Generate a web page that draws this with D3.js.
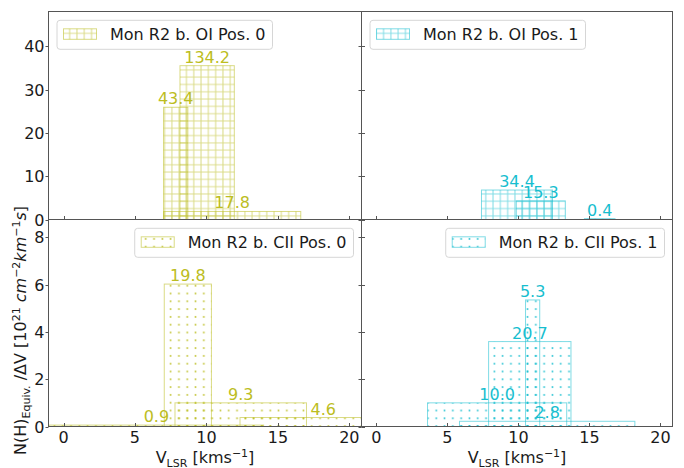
<!DOCTYPE html>
<html>
<head>
<meta charset="utf-8">
<script src="https://cdn.jsdelivr.net/npm/d3@7"></script>
<style>
  body { margin: 0; background: #fff; }
  text { font-family: "DejaVu Sans", sans-serif; }
</style>
</head>
<body>
<script>
// velocity ranges (km/s) and N(H)/dV per component, one set per panel
var xTicks = [0, 5, 10, 15, 20];
var yTicksOI = [0, 10, 20, 30, 40];
var yTicksCII = [0, 2, 4, 6, 8];

var oi0Lo = [7.0, 8.15, 7.0];
var oi0Hi = [8.7, 11.95, 16.6];
var oi0Val = [25.9, 35.5, 1.85];
var oi0Lbl = ["43.4", "134.2", "17.8"];

var oi1Lo = [7.4, 9.85, 14.65];
var oi1Hi = [12.4, 13.3, 16.8];
var oi1Val = [6.8, 4.3, 0.2];
var oi1Lbl = ["34.4", "15.3", "0.4"];

var cii0Lo = [7.05, 7.8, 12.35, -1.0];
var cii0Hi = [10.35, 17.0, 24.0, 14.0];
var cii0Val = [6.02, 1.0, 0.38, 0.06];
var cii0Lbl = ["19.8", "9.3", "4.6", "0.9"];

var cii1Lo = [10.5, 7.9, 3.6, 5.85];
var cii1Hi = [11.5, 13.7, 13.4, 18.2];
var cii1Val = [5.35, 3.59, 1.0, 0.22];
var cii1Lbl = ["5.3", "20.7", "10.0", "2.8"];

var olive = "#bcbd22", cyan = "#17becf";

(function(){
    var W = 684, H = 468;
    var colL = 48.5, colM = 361.5, colR = 672.5;
    var rowT = 11.5, rowM = 219.5, rowB = 426.5;

    var svg = d3.select("body").append("svg")
        .attr("width", W).attr("height", H);
    var defs = svg.append("defs");

    function gridPattern(id, color) {
        var p = defs.append("pattern").attr("id", id)
            .attr("patternUnits", "userSpaceOnUse")
            .attr("x", 0.3).attr("y", 0.5)
            .attr("width", 7.3).attr("height", 7.3);
        p.append("path")
            .attr("d", "M3.65,0V7.3M0,3.65H7.3")
            .attr("stroke", color).attr("stroke-opacity", 0.55)
            .attr("stroke-width", 1).attr("fill", "none");
    }
    function dotPattern(id, color) {
        var p = defs.append("pattern").attr("id", id)
            .attr("patternUnits", "userSpaceOnUse")
            .attr("x", 0.5).attr("y", 1)
            .attr("width", 8.3).attr("height", 7.8);
        p.append("circle").attr("cx", 4.15).attr("cy", 3.9).attr("r", 1)
            .attr("fill", color).attr("fill-opacity", 0.85);
    }
    gridPattern("grid-olive", olive);
    gridPattern("grid-cyan", cyan);
    dotPattern("dots-olive", olive);
    dotPattern("dots-cyan", cyan);

    var panels = [
        {x0: colL, x1: colM, y0: rowT, y1: rowM, lo: oi0Lo, hi: oi0Hi, val: oi0Val, lbl: oi0Lbl,
         yMax: 48, yt: yTicksOI, color: olive, fill: "grid-olive", name: "Mon R2 b. OI Pos. 0",
         left: true, bottom: false, legendLeft: true},
        {x0: colM, x1: colR, y0: rowT, y1: rowM, lo: oi1Lo, hi: oi1Hi, val: oi1Val, lbl: oi1Lbl,
         yMax: 48, yt: yTicksOI, color: cyan, fill: "grid-cyan", name: "Mon R2 b. OI Pos. 1",
         left: false, bottom: false, legendLeft: true},
        {x0: colL, x1: colM, y0: rowM, y1: rowB, lo: cii0Lo, hi: cii0Hi, val: cii0Val, lbl: cii0Lbl,
         yMax: 8.75, yt: yTicksCII, color: olive, fill: "dots-olive", name: "Mon R2 b. CII Pos. 0",
         left: true, bottom: true, legendLeft: false},
        {x0: colM, x1: colR, y0: rowM, y1: rowB, lo: cii1Lo, hi: cii1Hi, val: cii1Val, lbl: cii1Lbl,
         yMax: 8.75, yt: yTicksCII, color: cyan, fill: "dots-cyan", name: "Mon R2 b. CII Pos. 1",
         left: false, bottom: true, legendLeft: false}
    ];

    panels.forEach(function(p, i) {
        var x = d3.scaleLinear().domain([-1.05, 20.85]).range([p.x0, p.x1]);
        var y = d3.scaleLinear().domain([0, p.yMax]).range([p.y1, p.y0]);
        var g = svg.append("g");

        defs.append("clipPath").attr("id", "clip" + i)
            .append("rect").attr("x", p.x0).attr("y", p.y0)
            .attr("width", p.x1 - p.x0).attr("height", p.y1 - p.y0);

        var bars = d3.range(p.val.length).map(function(k) {
            return {lo: p.lo[k], hi: p.hi[k], v: p.val[k], lbl: p.lbl[k]};
        });

        var plot = g.append("g").attr("clip-path", "url(#clip" + i + ")");
        plot.selectAll("rect.bar").data(bars).enter().append("rect")
            .attr("class", "bar")
            .attr("x", function(d) { return x(d.lo); })
            .attr("y", function(d) { return y(d.v); })
            .attr("width", function(d) { return x(d.hi) - x(d.lo); })
            .attr("height", function(d) { return y(0) - y(d.v); })
            .attr("fill", "url(#" + p.fill + ")")
            .attr("stroke", p.color).attr("stroke-opacity", 0.55)
            .attr("stroke-width", 1);

        plot.selectAll("text.lbl").data(bars).enter().append("text")
            .attr("class", "lbl")
            .attr("x", function(d) { return x((d.lo + d.hi) / 2); })
            .attr("y", function(d) { return y(d.v) - 3; })
            .attr("text-anchor", "middle")
            .attr("font-size", 16)
            .attr("fill", p.color)
            .text(function(d) { return d.lbl; });

        // frame
        g.append("rect").attr("x", p.x0).attr("y", p.y0)
            .attr("width", p.x1 - p.x0).attr("height", p.y1 - p.y0)
            .attr("fill", "none").attr("stroke", "#555").attr("stroke-width", 1);

        // x ticks point inward, y ticks outward
        g.selectAll("line.xt").data(xTicks).enter().append("line")
            .attr("x1", function(d) { return Math.round(x(d)) + 0.5; })
            .attr("x2", function(d) { return Math.round(x(d)) + 0.5; })
            .attr("y1", p.y1).attr("y2", p.y1 - 3.5)
            .attr("stroke", "#555");
        g.selectAll("line.yt").data(p.yt).enter().append("line")
            .attr("x1", p.x0).attr("x2", p.x0 - 3)
            .attr("y1", function(d) { return Math.round(y(d)) + 0.5; })
            .attr("y2", function(d) { return Math.round(y(d)) + 0.5; })
            .attr("stroke", "#555");
        if (p.left) {
            g.selectAll("line.yr").data(p.yt).enter().append("line")
                .attr("x1", p.x1).attr("x2", p.x1 + 3.5)
                .attr("y1", function(d) { return Math.round(y(d)) + 0.5; })
                .attr("y2", function(d) { return Math.round(y(d)) + 0.5; })
                .attr("stroke", "#555");
            g.selectAll("text.yl").data(p.yt).enter().append("text")
                .attr("x", p.x0 - 4).attr("y", function(d) { return y(d) + 6; })
                .attr("text-anchor", "end").attr("font-size", 16).attr("fill", "#1a1a1a")
                .text(function(d) { return d; });
        }
        if (p.bottom) {
            g.selectAll("text.xl").data(xTicks).enter().append("text")
                .attr("x", function(d) { return x(d); }).attr("y", p.y1 + 16.5)
                .attr("text-anchor", "middle").attr("font-size", 16).attr("fill", "#1a1a1a")
                .text(function(d) { return d; });
            var xl = g.append("text").attr("x", (p.x0 + p.x1) / 2).attr("y", 463)
                .attr("text-anchor", "middle").attr("font-size", 16).attr("fill", "#1a1a1a");
            xl.append("tspan").text("V");
            xl.append("tspan").attr("font-size", 11).attr("dy", 3.5).text("LSR");
            xl.append("tspan").attr("dy", -3.5).text(" [kms");
            xl.append("tspan").attr("font-size", 11).attr("dy", -6.5).text("\u22121");
            xl.append("tspan").attr("dy", 6.5).text("]");
        }

        // legend
        var lg = g.append("g");
        var box = lg.append("rect").attr("rx", 3).attr("ry", 3)
            .attr("fill", "#fff").attr("fill-opacity", 0.8)
            .attr("stroke", "#d6d6d6").attr("stroke-width", 1);
        var handle = lg.append("rect")
            .attr("fill", "url(#" + p.fill + ")")
            .attr("stroke", p.color).attr("stroke-opacity", 0.55);
        var txt = lg.append("text").attr("font-size", 16).attr("fill", "#1a1a1a").text(p.name);
        var tw = txt.node().getComputedTextLength();
        var bw = 53 + tw + 7, bh = 29;
        var bx = p.legendLeft ? p.x0 + 8.5 : p.x1 - 8 - bw;
        var by = p.y0 + 8.8;
        box.attr("x", bx).attr("y", by).attr("width", bw).attr("height", bh);
        handle.attr("x", bx + 6.5).attr("y", by + 8.5).attr("width", 33).attr("height", 10.5);
        txt.attr("x", bx + 53).attr("y", by + 19.5);
    });

    // shared y label
    var yl = svg.append("text")
        .attr("transform", "translate(26,455) rotate(-90)")
        .attr("text-anchor", "start").attr("font-size", 16).attr("fill", "#1a1a1a");
    yl.append("tspan").text("N(H)");
    yl.append("tspan").attr("font-size", 11).attr("dy", 3.5).text("Equiv.");
    yl.append("tspan").attr("dy", -3.5).text(" /\u0394V [10");
    yl.append("tspan").attr("font-size", 11).attr("dy", -6.5).text("21");
    yl.append("tspan").attr("dy", 6.5).text(" ");
    yl.append("tspan").attr("font-style", "italic").text("cm");
    yl.append("tspan").attr("font-size", 11).attr("dy", -6.5).text("\u22122");
    yl.append("tspan").attr("dy", 6.5).attr("font-style", "italic").text("km");
    yl.append("tspan").attr("font-size", 11).attr("dy", -6.5).text("\u22121");
    yl.append("tspan").attr("dy", 6.5).attr("font-style", "italic").text("s");
    yl.append("tspan").text("]");
})();
</script>
</body>
</html>
